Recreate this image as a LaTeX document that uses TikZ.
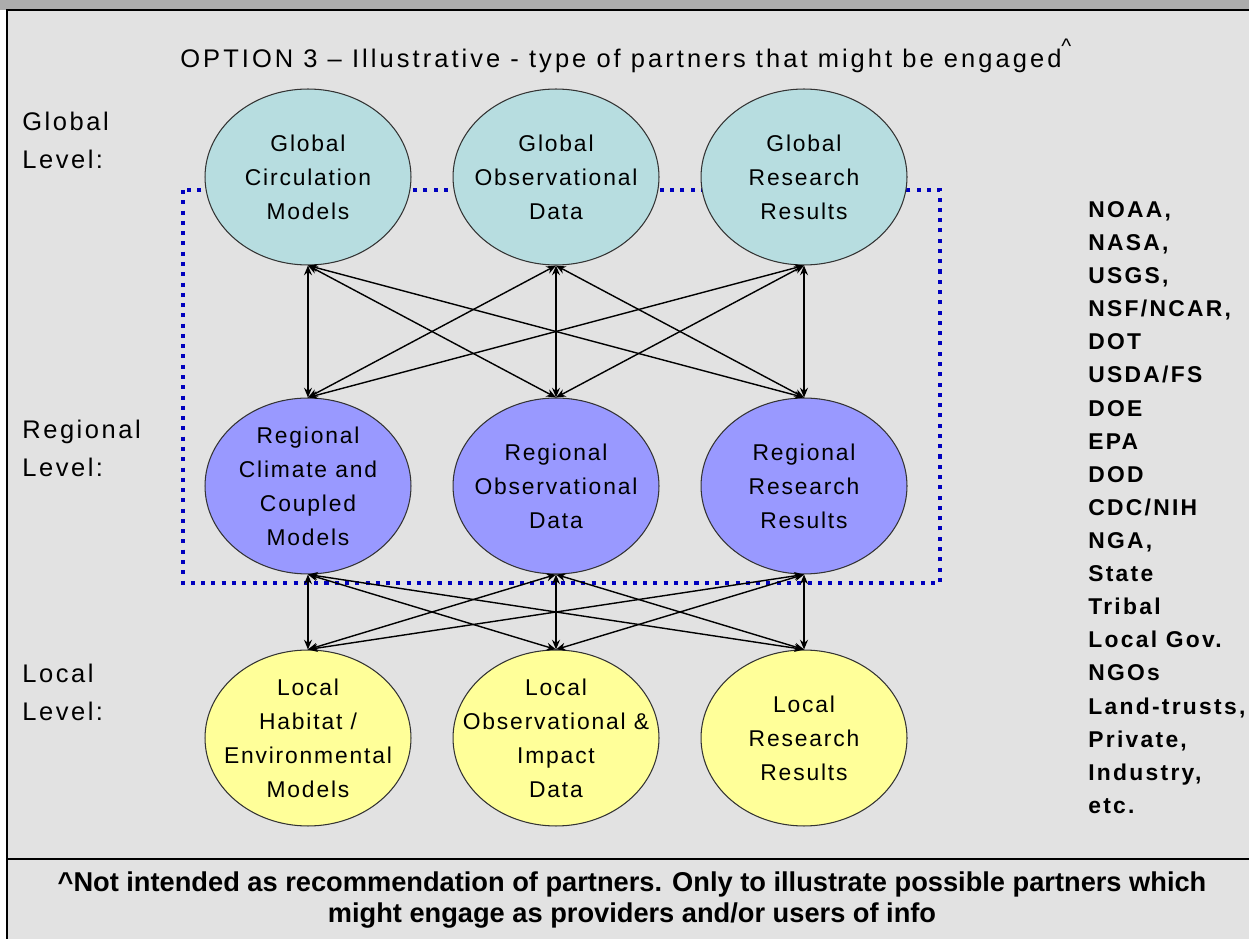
\documentclass[tikz,border=0pt]{standalone}
\usepackage{fontspec}
\setmainfont{Liberation Sans}
\newfontfamily\ellfont[LetterSpace=8]{Liberation Sans}
\newfontfamily\lvlfont[LetterSpace=10]{Liberation Sans}
\newfontfamily\titlefont[LetterSpace=12]{Liberation Sans}
\newfontfamily\listfont[LetterSpace=10]{Liberation Sans}
\newfontfamily\notefont{Liberation Sans}
\usetikzlibrary{arrows.meta,positioning,shapes}

\definecolor{globfill}{RGB}{183,221,224}
\definecolor{regfill}{RGB}{153,153,255}
\definecolor{locfill}{RGB}{255,255,153}
\definecolor{boxblue}{RGB}{0,0,190}
\definecolor{marble}{RGB}{226,226,226}

\begin{document}
\begin{tikzpicture}[x=0.02cm, y=-0.02cm, >={Stealth[length=5.5pt,width=4.5pt]}, node distance=0.82cm,
    ell/.style={ellipse, draw=black!80, line width=0.6pt, align=center,
        minimum width=4.12cm, minimum height=3.52cm,
        inner xsep=-16pt, inner ysep=-4pt,
        font=\ellfont\fontsize{13}{19.3}\selectfont},
    globnode/.style={ell, fill=globfill},
    regnode/.style={ell, fill=regfill},
    locnode/.style={ell, fill=locfill},
    lvl/.style={anchor=north west, align=left, inner sep=0pt,
        font=\lvlfont\fontsize{14.5}{21.6}\selectfont},
    dotbox/.style={boxblue, line width=2.3pt, dash pattern=on 2.3pt off 3.55pt},
    link/.style={<->, line width=0.8pt}
    ]
\useasboundingbox (0,0) rectangle (1249,939);
% background and frame
\fill[marble] (0,0) rectangle (1249,939);
\fill[white] (0,10) rectangle (7,939);
\fill[gray!65] (0,0) rectangle (1249,10);
\draw[line width=1.2pt] (1249,10) -- (7,10) -- (7,939);
\draw[line width=1pt] (7,859) -- (1249,859);

% title
\node[anchor=base west, inner sep=0pt, font=\titlefont\fontsize{14.5}{17}\selectfont] (title) at (180,68)
    {OPTION 3 \textendash{} Illustrative - type of partners that might be engaged\raisebox{1.1ex}{\large\textasciicircum}};

% levels
\node[lvl] (globlvl) at (22,112) {Global\\Level:};
\node[lvl] (reglvl)  at (22,420) {Regional\\Level:};
\node[lvl] (loclvl)  at (22,664) {Local\\Level:};

% dotted frame behind the ellipses
\coordinate (boxnw) at (183,190);
\coordinate (boxse) at (940,583);
\draw[dotbox] (boxnw) rectangle (boxse);

% global
\node[globnode] (g1) at (308,177) {Global\\Circulation\\Models};
\node[globnode] (g2) [right=of g1] {Global\\Observational\\Data};
\node[globnode] (g3) [right=of g2] {Global\\Research\\Results};
% regional
\node[regnode]  (r1) [below=2.64cm of g1] {Regional\\Climate and\\Coupled\\Models};
\node[regnode]  (r2) [right=of r1] {Regional\\Observational\\Data};
\node[regnode]  (r3) [right=of r2] {Regional\\Research\\Results};
% local
\node[locnode]  (l1) [below=1.5cm of r1] {Local\\Habitat /\\Environmental\\Models};
\node[locnode]  (l2) [right=of l1] {Local\\Observational \&\\Impact\\Data};
\node[locnode]  (l3) [right=of l2] {Local\\Research\\Results};

\path[link]
(g1.south) edge (r1.north)
(g1.south) edge (r2.north)
(g1.south) edge (r3.north)
(g2.south) edge (r1.north)
(g2.south) edge (r2.north)
(g2.south) edge (r3.north)
(g3.south) edge (r1.north)
(g3.south) edge (r2.north)
(g3.south) edge (r3.north)
;
\path[link]
(r1.south) edge (l1.north)
(r1.south) edge (l2.north)
(r1.south) edge (l3.north)
(r2.south) edge (l1.north)
(r2.south) edge (l2.north)
(r2.south) edge (l3.north)
(r3.south) edge (l1.north)
(r3.south) edge (l2.north)
(r3.south) edge (l3.north)
;

% partners
\node[anchor=north west, align=left, inner sep=0pt,
    font=\listfont\bfseries\fontsize{13}{18.85}\selectfont] (partners) at (1088,201)
    {NOAA,\\NASA,\\USGS,\\NSF/NCAR,\\DOT\\USDA/FS\\DOE\\EPA\\DOD\\CDC/NIH\\NGA,\\State\\Tribal\\Local Gov.\\NGOs\\Land-trusts,\\Private,\\Industry,\\etc.};

% footnote
\node[align=center, inner sep=0pt, font=\notefont\bfseries\fontsize{15.5}{18}\selectfont] (note) at (632,900)
    {\textasciicircum Not intended as recommendation of partners. Only to illustrate possible partners which\\
     might engage as providers and/or users of info};
\end{tikzpicture}
\end{document}
